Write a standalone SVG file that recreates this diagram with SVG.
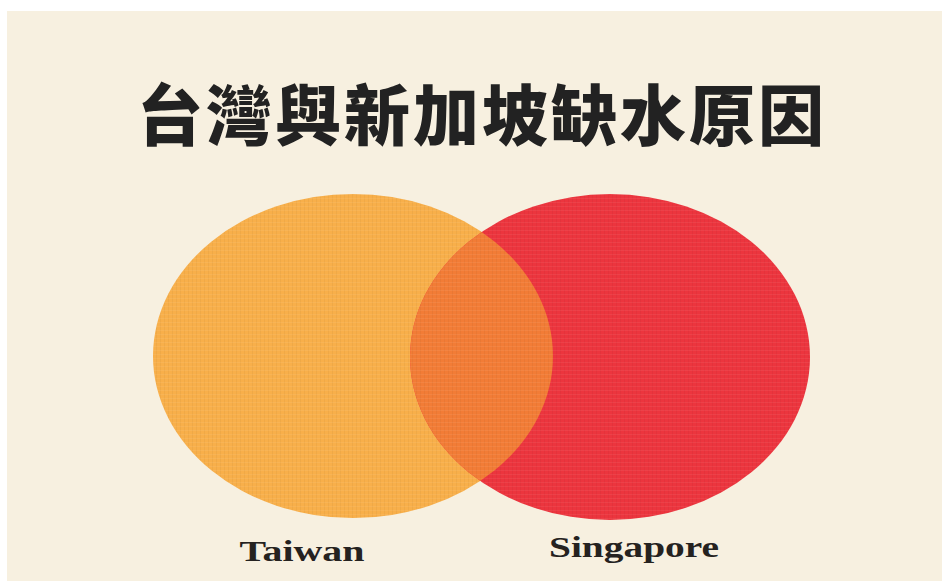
<svg xmlns="http://www.w3.org/2000/svg" width="942" height="581" viewBox="0 0 942 581">
  <style>
    .title { font-family: "Noto Sans CJK TC", "Noto Sans CJK SC", sans-serif; font-weight: 900; font-size: 66px; fill: #222222; }
    .label { font-family: "Liberation Serif", "DejaVu Serif", serif; font-weight: bold; font-size: 30px; fill: #252220; }
    .tex { fill: url(#weave); }
  </style>
  <defs>
    <pattern id="weave" patternUnits="userSpaceOnUse" width="4" height="4">
      <rect x="0" y="0" width="1" height="4" fill="#000" fill-opacity="0.035"/>
      <rect x="0" y="2" width="4" height="1" fill="#fff" fill-opacity="0.06"/>
    </pattern>
    <clipPath id="clipLeft">
      <ellipse cx="353" cy="356" rx="200" ry="162"/>
    </clipPath>
  </defs>
  <rect x="0" y="0" width="942" height="581" fill="#ffffff"/>
  <rect x="7" y="11" width="935" height="570" fill="#f7f0e0"/>

  <g id="title">
    <text class="title" x="482" y="140" text-anchor="middle" letter-spacing="3">台灣與新加坡缺水原因</text>
  </g>

  <g id="taiwan">
    <ellipse cx="353" cy="356" rx="200" ry="162" fill="#f8af4a"/>
    <ellipse class="tex" cx="353" cy="356" rx="200" ry="162"/>
  </g>

  <g id="singapore">
    <ellipse cx="610" cy="357" rx="200" ry="163" fill="#ec353e"/>
    <ellipse class="tex" cx="610" cy="357" rx="200" ry="163"/>
  </g>

  <g id="overlap" clip-path="url(#clipLeft)">
    <ellipse cx="610" cy="357" rx="200" ry="163" fill="#f27c36"/>
    <ellipse class="tex" cx="610" cy="357" rx="200" ry="163"/>
  </g>

  <g id="label-taiwan">
    <text class="label" x="302" y="561" text-anchor="middle" textLength="125" lengthAdjust="spacingAndGlyphs">Taiwan</text>
  </g>
  <g id="label-singapore">
    <text class="label" x="634" y="557" text-anchor="middle" textLength="170" lengthAdjust="spacingAndGlyphs">Singapore</text>
  </g>

  <g id="connectors"/>
</svg>
